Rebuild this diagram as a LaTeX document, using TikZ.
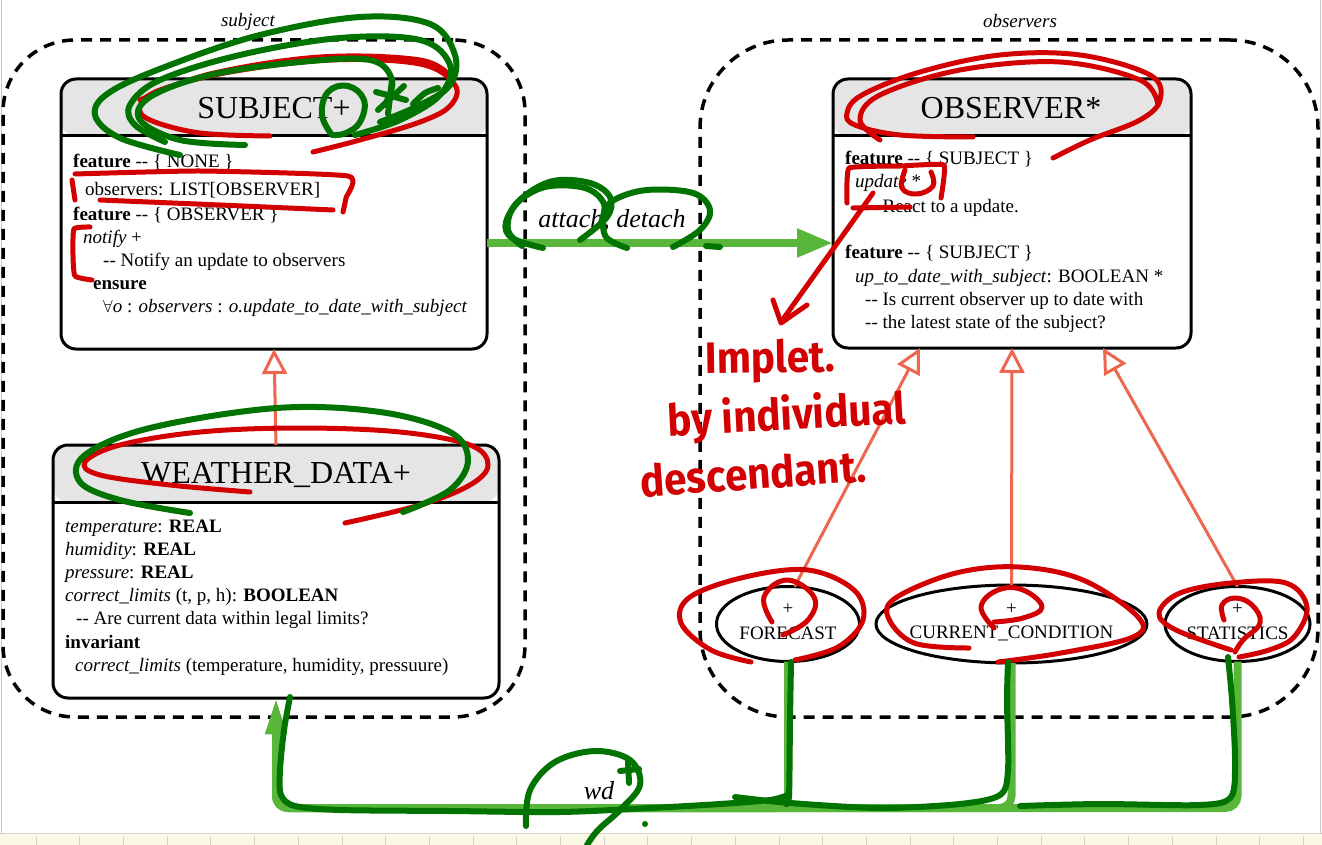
\documentclass[tikz,border=0pt]{standalone}
\usepackage{fontspec}
\usepackage{graphicx}
\setmainfont{Liberation Serif}
\newfontfamily\handfont{Fira Sans}
\usetikzlibrary{arrows.meta,shapes.geometric}
\definecolor{hdrgray}{RGB}{229,229,229}
\definecolor{inhcol}{RGB}{238,102,78}
\definecolor{edgegreen}{RGB}{88,182,58}
\definecolor{penred}{RGB}{210,0,0}
\definecolor{pengreen}{RGB}{0,115,0}
\definecolor{stripcol}{RGB}{251,248,232}
\definecolor{tickgray}{RGB}{215,210,195}
\newcommand\dsh{\mbox{-}\mbox{-}}
\newcommand\bodysz{\fontsize{19}{23}\selectfont}
\tikzset{
  cluster/.style={draw, line width=3.5pt, dash pattern=on 11pt off 8pt, minimum height=677pt, outer sep=0pt, inner sep=0pt},
  classbox/.style={draw, line width=3pt, rounded corners=15pt, outer sep=0pt, inner sep=0pt, fill=white,
    path picture={\fill[hdrgray] (path picture bounding box.north west) rectangle ([yshift=-57pt]path picture bounding box.north east);}},
  title/.style={font=\fontsize{32}{36}\selectfont, inner sep=0pt},
  txt/.style={anchor=base west, font=\bodysz, inner sep=0pt},
  clabel/.style={anchor=base, font=\fontsize{19}{22}\selectfont\itshape, inner sep=0pt},
  elabel/.style={anchor=base, font=\fontsize{26}{28}\selectfont\itshape, inner sep=0pt},
  oval/.style={ellipse, draw, line width=3pt, minimum height=75pt, inner sep=0pt, outer sep=0pt},
  otext/.style={font=\fontsize{19}{20}\selectfont, inner sep=0pt},
  inherit/.style={draw=inhcol, line width=3pt, -{Triangle[length=25pt, width=25pt, fill=white]}},
  greenedge/.style={draw=edgegreen, line width=8pt},
  pen/.style={line width=5pt, line cap=round, line join=round},
  redpen/.style={pen, draw=penred},
  greenpen/.style={pen, draw=pengreen, line width=6pt},
  hand/.style={text=penred, font=\handfont\bfseries\fontsize{44}{44}\selectfont, inner sep=0pt}
}
\begin{document}
\begin{tikzpicture}[x=1pt, y=-1pt]
\useasboundingbox (0,0) rectangle (1322,845);
\fill[white] (0,0) rectangle (1322,845);
% screenshot frame
\fill[stripcol] (0,833) rectangle (1322,845);
\draw[tickgray, line width=0.8pt] (0,833.5) -- (1322,833.5);
\foreach \i in {0,...,29} \draw[tickgray, line width=0.8pt] ({36+43.7*\i},836) -- ({36+43.7*\i},845);
\draw[black!22, line width=1pt] (1.5,0) -- (1.5,833);
\draw[black!22, line width=1pt] (1320.5,0) -- (1320.5,833);

% clusters
\node[cluster, rounded corners=72pt, minimum width=522pt] (csub) at (264,378.5) {};
\node[cluster, rounded corners=88pt, minimum width=618pt] (cobs) at (1009,378.5) {};
\node[clabel] (lsub) at (248,27) {subject};
\node[clabel] (lobs) at (1020,28) {observers};

% SUBJECT
\node[classbox, minimum width=426pt, minimum height=270pt] (subj) at (274,214) {};
\draw[line width=3pt] ([yshift=-57pt]subj.north west) -- ([yshift=-57pt]subj.north east);
\node[title] (subjT) at (274,108) {SUBJECT+};
\node[txt] (s1) at (73,168) {\textbf{feature} \dsh{} \{ NONE \}};
\node[txt] (s2) at (85,196) {observers: LIST[OBSERVER]};
\node[txt] (s3) at (73,220) {\textbf{feature} \dsh{} \{ OBSERVER \}};
\node[txt] (s4) at (83,243) {\textit{notify} +};
\node[txt] (s5) at (103,266) {\dsh{} Notify an update to observers};
\node[txt] (s6) at (93,289) {\textbf{ensure}};
\node[txt] (s7) at (103,312) {$\forall$\textit{o} : \textit{observers} : \textit{o.update\_to\_date\_with\_subject}};

% WEATHER_DATA
\node[classbox, minimum width=446pt, minimum height=253pt] (wd) at (276,571.5) {};
\draw[line width=3pt] ([yshift=-57pt]wd.north west) -- ([yshift=-57pt]wd.north east);
\node[title] (wdT) at (276,475) {WEATHER\_DATA+};
\node[txt] (w1) at (65,532) {\textit{temperature}: \textbf{REAL}};
\node[txt] (w2) at (65,555) {\textit{humidity}: \textbf{REAL}};
\node[txt] (w3) at (65,578) {\textit{pressure}: \textbf{REAL}};
\node[txt] (w4) at (65,601) {\textit{correct\_limits} (t, p, h): \textbf{BOOLEAN}};
\node[txt] (w5) at (76,624) {\dsh{} Are current data within legal limits?};
\node[txt] (w6) at (65,648) {\textbf{invariant}};
\node[txt] (w7) at (75,671) {\textit{correct\_limits} (temperature, humidity, pressuure)};

% OBSERVER
\node[classbox, minimum width=358pt, minimum height=269pt] (obs) at (1012,213.5) {};
\draw[line width=3pt] ([yshift=-57pt]obs.north west) -- ([yshift=-57pt]obs.north east);
\node[title] (obsT) at (1011,108) {OBSERVER*};
\node[txt] (o1) at (845,165) {\textbf{feature} \dsh{} \{ SUBJECT \}};
\node[txt] (o2) at (855,188) {\textit{update} *};
\node[txt] (o3) at (865,212) {\dsh{} React to a update.};
\node[txt] (o4) at (845,258) {\textbf{feature} \dsh{} \{ SUBJECT \}};
\node[txt] (o5) at (855,282) {\textit{up\_to\_date\_with\_subject}: BOOLEAN *};
\node[txt] (o6) at (865,305) {\dsh{} Is current observer up to date with};
\node[txt] (o7) at (865,328) {\dsh{} the latest state of the subject?};

% descendants
\node[oval, minimum width=143pt] (fc) at (788,624) {};
\node[otext] (fcp) at (788,609) {+};
\node[otext] (fcl) at (788,633) {FORECAST};
\node[oval, minimum width=271pt, minimum height=78pt] (cc) at (1011.5,624) {};
\node[otext] (ccp) at (1011.5,609) {+};
\node[otext] (ccl) at (1011.5,633) {CURRENT\_CONDITION};
\node[oval, minimum width=145pt] (st) at (1237.5,624) {};
\node[otext] (stp) at (1237.5,609) {+};
\node[otext] (stl) at (1237.5,633) {STATISTICS};

% inheritance
\draw[inherit] (wd.north) -- (subj.south);
\draw[inherit] (fc.80) -- ([xshift=87pt]obs.south west);
\draw[inherit] (cc.north) -- (obs.south);
\draw[inherit] (st.north) -- ([xshift=270pt]obs.south west);

% client edges
\coordinate (ay) at (0,243);
\draw[greenedge, -{Triangle[length=36pt, width=27pt]}] (subj.east |- ay) -- (obs.west |- ay);
\node[elabel] (latt) at (612,228) {attach, detach};
\coordinate (bl) at (276,808);
\draw[greenedge, rounded corners=12pt, -{Triangle[length=36pt, width=19pt]}] (fc.south) |- (bl) -- (wd.south);
\draw[greenedge, rounded corners=12pt, -{Triangle[length=36pt, width=19pt]}] (cc.south) |- (bl) -- (wd.south);
\draw[greenedge, rounded corners=12pt, -{Triangle[length=36pt, width=19pt]}] (st.south) |- (bl) -- (wd.south);
\node[elabel] (lwd) at (599,799) {wd};

% ---------- hand annotations ----------
% SUBJECT header
\draw[redpen] plot[smooth, tension=0.6] coordinates {(270,136) (200,133) (150,120) (140,106) (160,90) (230,72) (330,60) (420,64) (455,85) (450,106) (420,122) (360,140) (313,152)};
\draw[redpen] plot[smooth, tension=0.6] coordinates {(140,100) (210,74) (320,57) (420,60) (452,78)};
\draw[greenpen] plot[smooth, tension=0.6] coordinates {(180,155) (120,138) (95,115) (110,92) (170,65) (260,35) (360,17) (430,24) (455,55) (450,85) (420,105) (380,122)};
\draw[greenpen] plot[smooth, tension=0.6] coordinates {(165,142) (135,125) (130,105) (160,80) (240,55) (340,38) (420,40) (450,65) (440,95) (400,120) (355,135)};
\draw[greenpen] plot[smooth, tension=0.6] coordinates {(245,145) (180,140) (140,120) (150,97) (210,75) (300,62) (370,60) (392,80) (385,105)};
\draw[greenpen] plot[smooth, tension=0.7] coordinates {(332,135) (322,115) (328,92) (348,86) (364,100) (360,122) (346,133) (334,135)};
\draw[greenpen] (376,92) -- (406,100);
\draw[greenpen] (392,80) -- (388,114);
\draw[greenpen] (378,110) -- (404,86);
\draw[greenpen] plot[smooth] coordinates {(413,104) (425,93) (438,88)};
% SUBJECT body
\draw[redpen] plot[smooth, tension=0.3] coordinates {(75,174) (200,171) (348,176) (346,198) (343,212)};
\draw[redpen] (72,180) -- (75,200);
\draw[redpen] plot[smooth] coordinates {(100,200) (220,205) (333,210)};
\draw[redpen] plot[smooth, tension=0.3] coordinates {(90,227) (74,229) (73,255) (75,276) (92,280)};
% attach / detach
\draw[greenpen] plot[smooth, tension=0.6] coordinates {(543,248) (512,238) (506,222) (522,198) (553,181) (590,183) (610,197) (607,217) (580,240)};
\draw[greenpen] plot[smooth, tension=0.6] coordinates {(522,246) (508,230) (515,205) (545,187) (585,188) (604,204) (600,225)};
\draw[greenpen] plot[smooth, tension=0.6] coordinates {(627,248) (606,237) (604,215) (614,200) (647,190) (693,193) (710,210) (700,230) (673,247)};
\draw[greenpen] (706,246) -- (720,247);
% OBSERVER header
\draw[redpen] plot[smooth, tension=0.6] coordinates {(973,137) (900,135) (855,125) (847,113) (862,95) (920,72) (1000,55) (1080,55) (1150,75) (1160,100) (1140,120) (1090,140) (1053,158)};
\draw[redpen] plot[smooth, tension=0.6] coordinates {(880,140) (860,120) (880,95) (960,70) (1060,62) (1140,80) (1158,105)};
% OBSERVER body
\draw[redpen] plot[smooth, tension=0.2] coordinates {(847,203) (849,168) (900,166) (944,165) (941,198)};
\draw[redpen] plot[smooth, tension=0.7] coordinates {(905,170) (902,188) (917,194) (933,186) (931,172)};
\draw[redpen] (853,208) -- (910,207);
\draw[redpen] (873,193) -- (781,322);
\draw[redpen] (773,300) -- (781,323) -- (807,305);
\node[hand, rotate=1] (hw1) at (770,361) {\scalebox{0.92}[1]{Implet.}};
\node[hand, rotate=3] (hw2) at (787,417) {\scalebox{0.92}[1]{by\hspace{10pt}individual}};
\node[hand, rotate=4] (hw3) at (753,473) {\scalebox{0.92}[1]{descendant.}};
% WEATHER_DATA header
\draw[redpen] plot[smooth, tension=0.6] coordinates {(250,492) (170,485) (100,475) (85,462) (120,445) (200,432) (300,428) (400,432) (470,445) (488,465) (470,485) (420,505) (345,523)};
\draw[greenpen] plot[smooth, tension=0.6] coordinates {(190,513) (120,500) (80,482) (85,455) (150,428) (277,408) (380,412) (450,432) (468,460) (450,490) (403,512)};
% ellipses
\draw[redpen] plot[smooth, tension=0.6] coordinates {(751,662) (711,650) (681,623) (690,597) (745,577) (808,570) (854,590) (863,620) (838,647) (795,660)};
\draw[redpen] plot[smooth, tension=0.7] coordinates {(772,622) (764,597) (787,580) (814,597) (808,620) (783,635)};
\draw[redpen] plot[smooth, tension=0.6] coordinates {(969,648) (914,643) (888,617) (897,597) (956,573) (1019,567) (1083,580) (1138,617) (1133,637) (1061,653) (998,662)};
\draw[redpen] plot[smooth, tension=0.7] coordinates {(994,628) (981,607) (998,590) (1023,590) (1042,607) (1023,618) (994,622)};
\draw[redpen] plot[smooth, tension=0.6] coordinates {(1231,650) (1176,630) (1159,613) (1180,593) (1231,583) (1286,583) (1307,607) (1294,637) (1269,650) (1239,657)};
\draw[redpen] plot[smooth, tension=0.7] coordinates {(1224,620) (1222,605) (1235,598) (1252,605) (1260,623) (1243,640) (1235,652)};
% bottom green strokes
\draw[greenpen] plot[smooth, tension=0.5] coordinates {(290,697) (284,730) (280,770) (281,795) (295,806) (340,810) (450,811) (560,812) (650,808) (720,804) (770,800) (788,795)};
\draw[greenpen] plot[smooth, tension=0.5] coordinates {(791,662) (790,720) (789,795) (786,804)};
\draw[greenpen] plot[smooth, tension=0.5] coordinates {(735,797) (790,803) (880,808) (960,804) (1000,795) (1008,770) (1007,700) (1008,662)};
\draw[greenpen] plot[smooth, tension=0.5] coordinates {(1020,806) (1100,804) (1200,805) (1231,797) (1235,760) (1232,700) (1228,657)};
\draw[greenpen] plot[smooth, tension=0.6] coordinates {(526,826) (530,790) (555,762) (595,751) (630,760) (640,785) (620,810) (598,830) (587,845)};
\draw[greenpen] (628,761) -- (629,783);
\draw[greenpen] (620,771) -- (639,769);
\fill[pengreen] (645,824) circle (3pt);
\end{tikzpicture}
\end{document}
